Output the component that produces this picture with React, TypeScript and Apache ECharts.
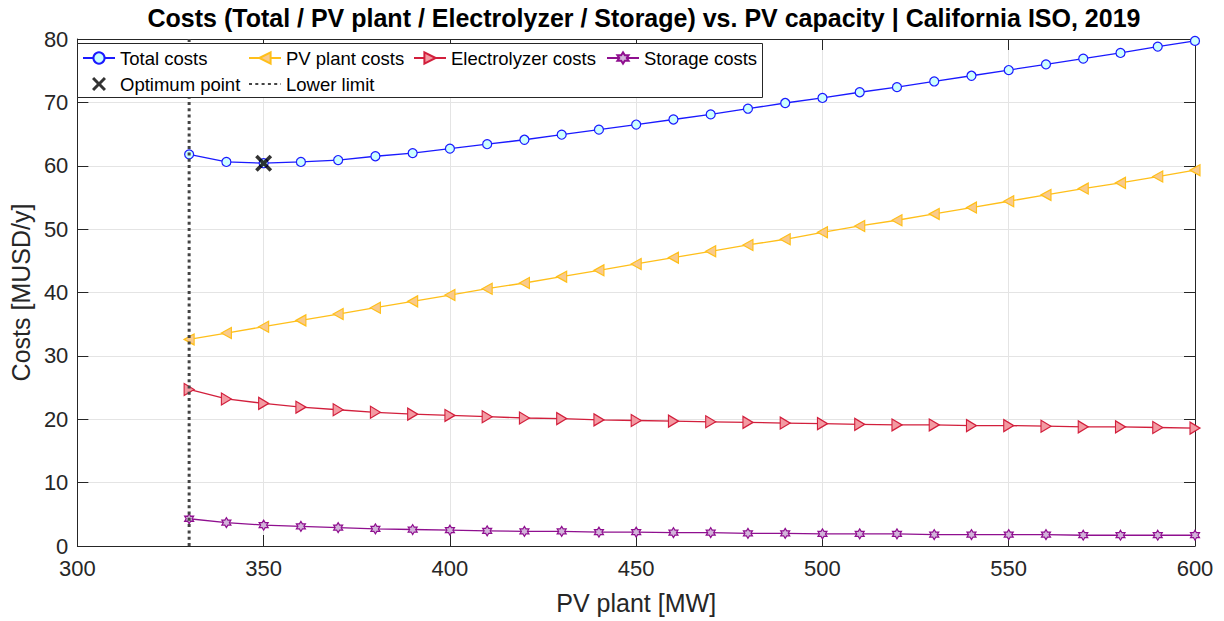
import React, { useEffect, useRef } from "react";
import * as echarts from "echarts";

// PV capacity steps [MW]
const pvCapacity = [
  330, 340, 350, 360, 370, 380, 390, 400, 410, 420, 430, 440, 450, 460,
  470, 480, 490, 500, 510, 520, 530, 540, 550, 560, 570, 580, 590, 600,
];

// Costs [MUSD/y]
const totalCosts = [
  61.8, 60.6, 60.4, 60.6, 60.9, 61.5, 62.0, 62.7, 63.4, 64.1, 64.9, 65.7,
  66.5, 67.3, 68.1, 69.0, 69.9, 70.7, 71.6, 72.4, 73.3, 74.2, 75.1, 76.0,
  76.9, 77.8, 78.8, 79.7,
];
const pvPlantCosts = [
  32.6, 33.6, 34.6, 35.6, 36.6, 37.6, 38.6, 39.6, 40.6, 41.5, 42.5, 43.5,
  44.5, 45.5, 46.5, 47.5, 48.4, 49.5, 50.5, 51.4, 52.4, 53.4, 54.4, 55.4,
  56.4, 57.3, 58.3, 59.3,
];
const electrolyzerCosts = [
  24.7, 23.2, 22.5, 21.9, 21.5, 21.1, 20.8, 20.6, 20.4, 20.2, 20.1, 19.9,
  19.8, 19.7, 19.6, 19.5, 19.4, 19.3, 19.2, 19.1, 19.1, 19.0, 19.0, 18.9,
  18.8, 18.8, 18.7, 18.6,
];
const storageCosts = [
  4.3, 3.7, 3.3, 3.1, 2.9, 2.7, 2.6, 2.5, 2.4, 2.3, 2.3, 2.2, 2.2, 2.1, 2.1,
  2.0, 2.0, 1.9, 1.9, 1.9, 1.8, 1.8, 1.8, 1.8, 1.7, 1.7, 1.7, 1.7,
];

const optimumPoint = [350, 60.4];
const lowerLimit = 330;

const xMin = 300;
const xMax = 600;
const xStep = 50;
const yMin = 0;
const yMax = 80;
const yStep = 10;

const titleText =
  "Costs (Total / PV plant / Electrolyzer / Storage) vs. PV capacity | California ISO, 2019";

const FONT = 'Arial, "Liberation Sans", Helvetica, sans-serif';
const AXIS_COLOR = "#262626";
const GRID_COLOR = "#e4e4e4";

const triLeft = "path://M0,50L100,0L100,100Z";
const triRight = "path://M100,50L0,0L0,100Z";
const hexagram =
  "path://M0,-100L28.87,-50L86.6,-50L57.7,0L86.6,50L28.87,50L0,100L-28.87,50L-86.6,50L-57.7,0L-86.6,-50L-28.87,-50Z";
const crossMark =
  "path://M0,3L3,0L10,7L17,0L20,3L13,10L20,17L17,20L10,13L3,20L0,17L7,10Z";

const pairs = (ys: number[]) => pvCapacity.map((x, i) => [x, ys[i]]);

export default function App() {
  const ref = useRef<HTMLDivElement>(null);

  useEffect(() => {
    if (!ref.current) return;
    const chart = echarts.init(ref.current, undefined, { renderer: "svg" });

    const gridLeft = 73;
    const gridRight = 29;
    const gridTop = 39;
    const gridBottom = 75;

    const baseAxis = {
      axisLine: { show: true, onZero: false, lineStyle: { color: AXIS_COLOR, width: 1 } },
      axisTick: { show: true, inside: true, length: 11, lineStyle: { color: AXIS_COLOR, width: 1 } },
    };

    const legendText = { fontFamily: FONT, fontSize: 18.5, color: "#000", lineHeight: 20 };
    const legendCommon = {
      orient: "vertical" as const,
      top: 48,
      padding: 0,
      itemWidth: 32,
      itemHeight: 14,
      itemGap: 6,
      textStyle: legendText,
      selectedMode: false,
      z: 8,
    };

    chart.setOption({
      animation: false,
      backgroundColor: "#ffffff",
      grid: { left: gridLeft, right: gridRight, top: gridTop, bottom: gridBottom, containLabel: false },
      graphic: [
        {
          type: "text",
          x: 644,
          y: 18,
          z: 10,
          style: {
            text: titleText,
            textAlign: "center",
            textVerticalAlign: "middle",
            font: `bold 25px ${FONT}`,
            fill: "#000",
          },
        },
        {
          // legend frame, opaque so the lines behind it are hidden
          type: "rect",
          z: 7,
          shape: { x: 77.5, y: 43.5, width: 685, height: 54 },
          style: { fill: "#ffffff", stroke: AXIS_COLOR, lineWidth: 1 },
        },
      ],
      legend: [
        { ...legendCommon, left: 82, data: ["Total costs", "Optimum point"] },
        { ...legendCommon, left: 248, data: ["PV plant costs", "Lower limit"] },
        { ...legendCommon, left: 413, data: ["Electrolyzer costs"] },
        { ...legendCommon, left: 606, data: ["Storage costs"] },
      ],
      xAxis: [
        {
          ...baseAxis,
          type: "value",
          position: "bottom",
          min: xMin,
          max: xMax,
          interval: xStep,
          name: "PV plant [MW]",
          nameLocation: "middle",
          nameGap: 44,
          nameTextStyle: { fontFamily: FONT, fontSize: 25, color: AXIS_COLOR },
          axisLabel: { fontFamily: FONT, fontSize: 22, color: AXIS_COLOR, margin: 11 },
          splitLine: { show: true, lineStyle: { color: GRID_COLOR, width: 1 } },
        },
        {
          ...baseAxis,
          type: "value",
          position: "top",
          min: xMin,
          max: xMax,
          interval: xStep,
          axisLabel: { show: false },
          splitLine: { show: false },
        },
      ],
      yAxis: [
        {
          ...baseAxis,
          type: "value",
          position: "left",
          min: yMin,
          max: yMax,
          interval: yStep,
          name: "Costs [MUSD/y]",
          nameLocation: "middle",
          nameGap: 36,
          nameTextStyle: { fontFamily: FONT, fontSize: 25, color: AXIS_COLOR },
          axisLabel: { fontFamily: FONT, fontSize: 22, color: AXIS_COLOR, margin: 9 },
          splitLine: { show: true, lineStyle: { color: GRID_COLOR, width: 1 } },
        },
        {
          ...baseAxis,
          type: "value",
          position: "right",
          min: yMin,
          max: yMax,
          interval: yStep,
          axisLabel: { show: false },
          splitLine: { show: false },
        },
      ],
      series: [
        {
          name: "Total costs",
          type: "line",
          data: pairs(totalCosts),
          symbol: "circle",
          symbolSize: 9,
          lineStyle: { color: "#1a1aff", width: 1.3 },
          itemStyle: { color: "#ccffff", borderColor: "#1a1aff", borderWidth: 1.2 },
          z: 2,
        },
        {
          name: "PV plant costs",
          type: "line",
          data: pairs(pvPlantCosts),
          symbol: triLeft,
          symbolSize: [10, 11],
          lineStyle: { color: "#ffbf1a", width: 1.3 },
          itemStyle: { color: "#f9ca8c", borderColor: "#ffbf1a", borderWidth: 1.2 },
          z: 2,
        },
        {
          name: "Electrolyzer costs",
          type: "line",
          data: pairs(electrolyzerCosts),
          symbol: triRight,
          symbolSize: [10, 12],
          lineStyle: { color: "#d21f3c", width: 1.3 },
          itemStyle: { color: "#f39aa2", borderColor: "#d21f3c", borderWidth: 1.2 },
          z: 2,
        },
        {
          name: "Storage costs",
          type: "line",
          data: pairs(storageCosts),
          symbol: hexagram,
          symbolSize: [9, 10],
          lineStyle: { color: "#8f0f8f", width: 1.3 },
          itemStyle: { color: "#d2b4da", borderColor: "#8f0f8f", borderWidth: 1.2 },
          z: 2,
        },
        {
          name: "Optimum point",
          type: "scatter",
          data: [optimumPoint],
          symbol: crossMark,
          symbolSize: 17,
          itemStyle: { color: "#000000" },
          z: 4,
        },
        {
          name: "Lower limit",
          type: "line",
          data: [
            [lowerLimit, yMin],
            [lowerLimit, yMax],
          ],
          symbol: "none",
          lineStyle: { color: "#444444", width: 3, type: [3, 3.3] },
          itemStyle: { color: "rgba(0,0,0,0)", borderWidth: 0 },
          z: 3,
        },
      ],
    });

    return () => chart.dispose();
  }, []);

  return (
    <div
      ref={ref}
      style={{ position: "fixed", left: 0, top: 0, width: 1224, height: 621, background: "#fff" }}
    />
  );
}
